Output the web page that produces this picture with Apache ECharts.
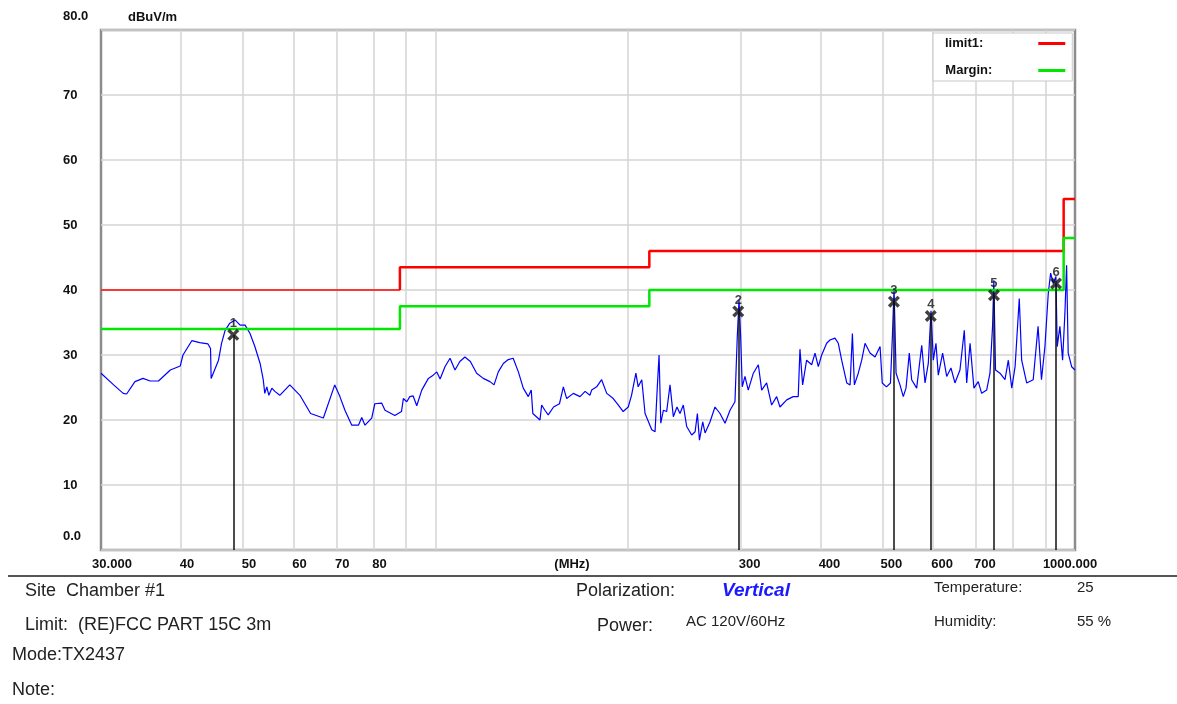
<!DOCTYPE html>
<html>
<head>
<meta charset="utf-8">
<script src="https://cdn.jsdelivr.net/npm/echarts@6/dist/echarts.min.js"></script>
<style>
  html, body { margin: 0; padding: 0; background: #fff; }
  #chart { width: 1177px; height: 704px; }
</style>
</head>
<body>
<div id="chart"></div>
<script>
// trace (MHz / dBuV/m)
var traceFreq = [30.0, 30.1, 31.4, 32.5, 32.9, 33.9, 34.9, 35.8, 36.9, 38.5, 39.9, 40.3, 41.6, 42.8, 44.1, 44.5, 44.6, 45.8, 46.3, 46.9,
  47.7, 48.6, 49.5, 50.4, 51.3, 52.2, 53.2, 53.8, 54.1, 54.5, 54.9, 55.5, 56.1, 57.1, 59.2, 61.4, 63.8, 66.8, 69.6, 70.9,
  72.2, 74.0, 75.8, 76.7, 77.6, 79.5, 80.4, 82.4, 83.4, 86.4, 88.5, 89.1, 90.2, 91.2, 92.3, 93.5, 95.2, 97.5, 99.2, 100.5,
  101.7, 103.5, 105.4, 107.3, 109.2, 111.2, 113.4, 116.0, 118.8, 121.7, 123.5, 125.4, 127.7, 130.0, 132.3, 134.8, 137.2, 139.7, 141.2, 142.0,
  145.7, 146.6, 148.3, 150.1, 153.0, 156.3, 158.5, 160.4, 164.3, 168.3, 171.4, 174.4, 175.5, 178.7, 181.9, 185.3, 189.7, 193.2, 196.6, 200.2,
  202.6, 205.8, 207.5, 210.2, 212.7, 217.9, 220.5, 222.3, 223.7, 225.1, 227.2, 229.9, 232.7, 235.5, 238.6, 241.2, 244.1, 247.1, 251.6, 254.7,
  256.8, 258.7, 261.8, 264.0, 268.7, 273.6, 278.6, 283.7, 288.8, 294.0, 296.4, 298.3, 300.1, 301.8, 304.8, 308.4, 314.1, 319.8, 323.7, 329.5,
  335.5, 341.6, 345.7, 354.2, 362.6, 369.2, 371.5, 375.1, 380.5, 387.5, 392.2, 396.9, 401.7, 409.0, 413.9, 421.4, 426.5, 431.7, 439.7, 445.0,
  448.7, 451.9, 458.3, 464.0, 469.6, 478.1, 486.8, 495.7, 499.6, 507.2, 514.6, 518.3, 521.3, 525.1, 532.5, 538.9, 544.2, 550.7, 555.4, 565.5,
  575.9, 582.8, 589.7, 595.5, 600.4, 606.2, 611.3, 620.9, 630.1, 639.8, 649.1, 660.9, 671.3, 677.1, 685.4, 695.0, 705.8, 714.6, 727.6, 736.3,
  743.2, 746.6, 751.2, 763.3, 777.2, 786.6, 796.4, 806.0, 818.2, 825.3, 840.3, 860.3, 875.5, 886.3, 897.4, 908.3, 916.0, 924.7, 933.6, 938.0,
  947.1, 956.3, 964.3, 970.2, 975.8, 988.0, 1000];
var traceLevel = [27.2, 26.9, 25.4, 24.1, 24.0, 25.9, 26.4, 26.0, 26.0, 27.7, 28.3, 30.0, 32.2, 31.9, 31.7, 31.0, 26.4, 29.2, 31.8, 33.8,
  34.9, 35.4, 34.6, 34.6, 33.3, 31.3, 28.7, 26.2, 24.1, 25.1, 23.8, 24.9, 24.4, 23.8, 25.4, 23.8, 21.0, 20.3, 25.4, 23.6,
  21.5, 19.2, 19.2, 20.4, 19.2, 20.3, 22.5, 22.6, 21.5, 20.7, 21.3, 23.3, 22.8, 23.6, 23.7, 22.2, 24.6, 26.4, 26.9, 27.4,
  26.3, 28.2, 29.5, 27.7, 29.0, 29.7, 29.0, 27.2, 26.4, 25.9, 25.4, 27.4, 28.7, 29.3, 29.5, 27.4, 24.9, 23.6, 24.6, 21.0,
  20.0, 22.3, 21.5, 20.8, 22.0, 22.5, 25.1, 23.3, 24.1, 23.6, 24.4, 23.8, 24.6, 25.1, 26.2, 24.1, 23.3, 22.3, 21.3, 22.0,
  23.8, 27.2, 25.1, 26.2, 21.0, 18.5, 18.2, 25.1, 30.0, 19.5, 21.5, 21.3, 25.4, 20.5, 22.0, 21.0, 22.3, 19.0, 17.7, 18.2,
  21.0, 16.9, 19.7, 18.0, 19.7, 22.0, 21.0, 19.5, 21.5, 22.8, 32.6, 38.5, 32.8, 25.1, 26.7, 24.6, 27.2, 28.5, 24.6, 25.7,
  22.3, 23.6, 22.0, 23.1, 23.6, 23.6, 30.9, 25.4, 29.2, 28.5, 30.3, 28.2, 30.0, 31.8, 32.3, 32.6, 31.8, 29.2, 25.7, 25.4,
  33.3, 25.4, 27.2, 29.2, 31.8, 30.3, 29.7, 31.3, 25.7, 25.1, 25.7, 33.1, 40.3, 27.2, 25.4, 23.6, 24.9, 30.3, 26.2, 24.9,
  31.5, 25.7, 28.7, 36.8, 29.2, 31.8, 26.9, 30.3, 26.7, 28.0, 25.7, 27.7, 33.8, 25.7, 31.8, 24.9, 25.9, 24.1, 24.6, 27.2,
  34.4, 41.5, 27.7, 27.2, 26.2, 29.2, 24.9, 28.2, 38.7, 29.2, 25.7, 26.2, 34.4, 26.2, 31.3, 39.5, 42.6, 41.0, 42.1, 31.3,
  34.4, 29.2, 36.4, 43.8, 30.3, 28.2, 27.7];

// limit steps: level holds from each break to the next
var limitBreaks = [30, 88, 216, 960, 1000];
var limitLevels = [40, 43.5, 46, 54];
var marginLevels = [34, 37.5, 40, 48];

// peak markers
var markerFreq = [48.3, 297.5, 521, 595, 747, 934];
var markerLevel = [33.1, 36.7, 38.2, 36.0, 39.2, 41.0];

var gridFreqs = [40, 50, 60, 70, 80, 90, 100, 200, 300, 400, 500, 600, 700, 800, 900];
var tickFreqs = [30, 40, 50, 60, 70, 80, 300, 400, 500, 600, 700, 1000];
var tickLabels = ['30.000', '40', '50', '60', '70', '80', '300', '400', '500', '600', '700', '1000.000'];

var chart = echarts.init(document.getElementById('chart'));

function stepData(breaks, levels, from, to) {
  var d = [];
  for (var i = from; i < to; i++) d.push([breaks[i], levels[i]]);
  d.push([breaks[to], levels[to - 1]]);
  return d;
}

var axisFont = { fontFamily: 'Liberation Sans', fontWeight: 'bold', fontSize: 13, color: '#111' };

var gridLines = gridFreqs.map(function (f) {
  return { xAxis: f, label: { show: false } };
});
tickFreqs.forEach(function (f, i) {
  var off = f < 100 ? 6 : 9;
  if (i === 0) off = 11;
  if (i === tickFreqs.length - 1) off = -5;
  gridLines.push({
    xAxis: f,
    lineStyle: { color: 'rgba(0,0,0,0)', width: 0 },
    label: Object.assign({ show: true, formatter: tickLabels[i], position: 'start', distance: 8, offset: [off, 0] }, axisFont)
  });
});

var markerLines = markerFreq.map(function (f, i) {
  return [{ coord: [f, markerLevel[i]] }, { coord: [f, 0] }];
});

var txt = function (x, y, text, font, fill) {
  return { type: 'text', x: x, y: y, style: { text: text, font: font, fill: fill || '#222', verticalAlign: 'middle' } };
};

var legendFont = { fontFamily: 'Liberation Sans', fontWeight: 'bold', fontSize: 13, color: '#111' };

var option = {
  animation: false,
  grid: { left: 101, right: 102, top: 30, bottom: 154, show: true, borderColor: '#8c8c8c', borderWidth: 2.5, backgroundColor: '#fff' },
  legend: {
    data: ['limit1', 'Margin'],
    left: 933, top: 33,
    orient: 'vertical', align: 'right',
    backgroundColor: '#fff', borderColor: '#c8c8c8', borderWidth: 1,
    padding: [4, 7, 4, 12], itemGap: 14,
    icon: 'rect', itemWidth: 27, itemHeight: 3,
    formatter: function (n) { return '{' + (n === 'limit1' ? 'a' : 'b') + '|' + n + ':}'; },
    textStyle: {
      rich: {
        a: Object.assign({ padding: [0, 50, 0, 0] }, legendFont),
        b: Object.assign({ padding: [0, 41, 0, 0] }, legendFont)
      }
    }
  },
  xAxis: {
    type: 'log', logBase: 10, min: 30, max: 1000,
    axisLine: { show: false }, axisTick: { show: false }, axisLabel: { show: false }, splitLine: { show: false },
    name: '(MHz)', nameLocation: 'middle', nameGap: 8,
    nameTextStyle: Object.assign({ padding: [0, 32, 0, 0] }, axisFont)
  },
  yAxis: {
    type: 'value', min: 0, max: 80, interval: 10,
    axisLine: { show: false }, axisTick: { show: false },
    splitLine: { lineStyle: { color: '#d4d4d4', width: 1.5 } },
    axisLabel: Object.assign({
      align: 'left', margin: 38,
      formatter: function (v) { return (v === 0 || v === 80) ? '{e|' + v.toFixed(1) + '}' : String(v); },
      rich: { e: { padding: [0, 0, 27, 0], fontFamily: 'Liberation Sans', fontWeight: 'bold', fontSize: 13, color: '#111' } }
    }, axisFont)
  },
  series: [
    {
      name: 'grid', type: 'line', data: [], silent: true,
      markLine: {
        z: 1, silent: true, symbol: 'none',
        lineStyle: { color: '#d4d4d4', width: 1.5, type: 'solid' },
        data: gridLines
      }
    },
    {
      name: 'trace', type: 'line', z: 3,
      data: traceFreq.map(function (f, i) { return [f, traceLevel[i]]; }),
      showSymbol: false, symbol: 'none',
      lineStyle: { color: '#0000ff', width: 1.2 }
    },
    {
      name: 'limit1', type: 'line', z: 4, step: 'end', symbol: 'none',
      color: '#ff0000', lineStyle: { color: '#ff0000', width: 1.5 },
      data: stepData(limitBreaks, limitLevels, 0, 1)
    },
    {
      name: 'limit1b', type: 'line', z: 4, step: 'end', symbol: 'none',
      color: '#ff0000', lineStyle: { color: '#ff0000', width: 2.5 },
      data: [[limitBreaks[1], limitLevels[0]]].concat(stepData(limitBreaks, limitLevels, 1, 4))
    },
    {
      name: 'Margin', type: 'line', z: 4, step: 'end', symbol: 'none',
      color: '#00e800', lineStyle: { color: '#00e800', width: 2.5 },
      data: stepData(limitBreaks, marginLevels, 0, 4)
    },
    {
      name: 'markers', type: 'scatter', z: 6,
      data: markerFreq.map(function (f, i) { return [f, markerLevel[i]]; }),
      symbol: 'path://M0,2L2,0L5,3L8,0L10,2L7,5L10,8L8,10L5,7L2,10L0,8L3,5Z',
      symbolSize: 12,
      itemStyle: { color: '#111' },
      label: {
        show: true, position: 'top', distance: -1,
        formatter: function (p) { return String(p.dataIndex + 1); },
        fontFamily: 'Liberation Sans', fontWeight: 'bold', fontSize: 13, color: '#111'
      },
      markLine: {
        silent: true, symbol: 'none', z: 5,
        lineStyle: { color: '#111', width: 1.5, type: 'solid' },
        label: { show: false },
        data: markerLines
      }
    }
  ],
  graphic: [
    txt(128, 17, 'dBuV/m', 'bold 13px "Liberation Sans"', '#111'),
    { type: 'line', shape: { x1: 8, y1: 576, x2: 1177, y2: 576 }, style: { stroke: '#555', lineWidth: 2 } },
    txt(25, 591, 'Site  Chamber #1', '18px "Liberation Sans"'),
    txt(25, 625, 'Limit:  (RE)FCC PART 15C 3m', '18px "Liberation Sans"'),
    txt(12, 655, 'Mode:TX2437', '18px "Liberation Sans"'),
    txt(12, 690, 'Note:', '18px "Liberation Sans"'),
    txt(576, 591, 'Polarization:', '18px "Liberation Sans"'),
    txt(722, 591, 'Vertical', 'italic bold 19px "Liberation Sans"', '#1a1aff'),
    txt(597, 626, 'Power:', '18px "Liberation Sans"'),
    txt(686, 622, 'AC 120V/60Hz', '15px "Liberation Sans"'),
    txt(934, 588, 'Temperature:', '15px "Liberation Sans"'),
    txt(1077, 588, '25', '15px "Liberation Sans"'),
    txt(934, 622, 'Humidity:', '15px "Liberation Sans"'),
    txt(1077, 622, '55 %', '15px "Liberation Sans"')
  ]
};
chart.setOption(option);
</script>
</body>
</html>
